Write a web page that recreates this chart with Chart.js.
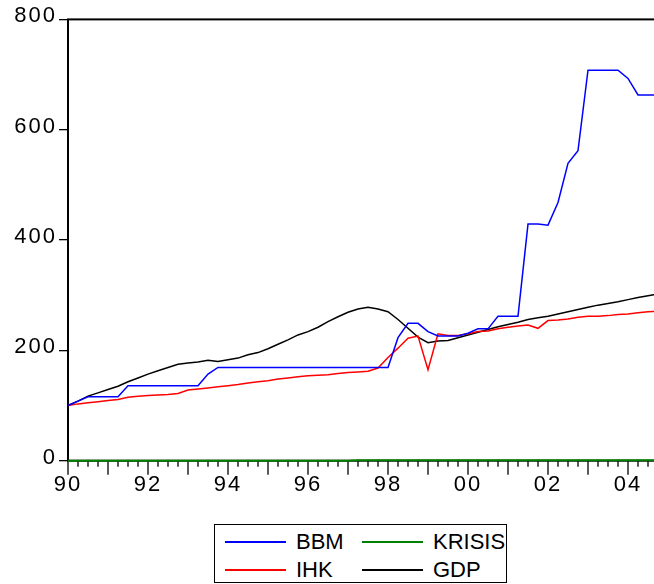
<!DOCTYPE html>
<html><head><meta charset="utf-8">
<script src="https://cdn.jsdelivr.net/npm/chart.js@4/dist/chart.umd.min.js"></script>
<style>
html,body{margin:0;padding:0;background:#fff;overflow:hidden;width:654px;height:584px;}
#wrap{position:absolute;left:0;top:0;width:660px;height:584px;}
#legend{position:absolute;left:214px;top:524px;width:291px;height:57px;border:1px solid #000;background:#fff;font-family:"Liberation Sans",Arial,sans-serif;font-size:22px;color:#000;}
.item{position:absolute;height:26px;line-height:26px;}
.item .sw{position:absolute;left:0;top:12px;width:61px;height:1.5px;}
.item .tx{position:absolute;left:71px;top:0;white-space:nowrap;}
</style></head>
<body>
<div id="wrap"><canvas id="c" width="660" height="584"></canvas></div>
<div id="legend"></div>
<script>
const quarters = ['1990Q1','1990Q2','1990Q3','1990Q4','1991Q1','1991Q2','1991Q3','1991Q4',
'1992Q1','1992Q2','1992Q3','1992Q4','1993Q1','1993Q2','1993Q3','1993Q4',
'1994Q1','1994Q2','1994Q3','1994Q4','1995Q1','1995Q2','1995Q3','1995Q4',
'1996Q1','1996Q2','1996Q3','1996Q4','1997Q1','1997Q2','1997Q3','1997Q4',
'1998Q1','1998Q2','1998Q3','1998Q4','1999Q1','1999Q2','1999Q3','1999Q4',
'2000Q1','2000Q2','2000Q3','2000Q4','2001Q1','2001Q2','2001Q3','2001Q4',
'2002Q1','2002Q2','2002Q3','2002Q4','2003Q1','2003Q2','2003Q3','2003Q4',
'2004Q1','2004Q2','2004Q3','2004Q4'];
const yearLabels = ['90','92','94','96','98','00','02','04'];
const yTicks = [0,200,400,600,800];

const bbm = [100,108,116,116,116,116,136,136,136,136,
 136,136,136,136,157,169,169,169,169,169,
 169,169,169,169,169,169,169,169,169,169,
 169,169,169,223,249,249,234,226,226,226,
 231,239,239,262,262,262,429,429,427,468,
 539,562,708,708,708,708,693,663,663,663];
const ihk = [100,103,105,107,109,111,115,117,118,119,
 120,122,128,130,132,134,136,138,141,143,
 145,148,150,152,154,155,156,158,160,161,
 162,168,187,204,222,226,165,230,227,227,
 230,234,235,239,242,244,246,240,254,255,
 257,260,262,262,263,265,266,268,270,271];
const krisis = [0,0,0,0,0,0,0,0,0,0,
 0,0,0,0,0,0,0,0,0,0,
 0,0,0,0,0,0,0,0,0,1,
 1,1,1,1,1,1,1,1,1,1,
 1,1,1,1,1,1,1,1,1,1,
 1,1,1,1,1,1,1,1,1,1];
const gdp = [100,108,117,123,129,135,143,150,157,163,
 169,175,177,179,182,180,183,186,192,196,
 203,211,219,228,234,242,252,261,269,275,
 278,275,270,256,240,224,214,217,218,223,
 228,233,238,243,247,251,256,259,262,266,
 270,274,278,282,285,288,292,296,299,302];

const FONT = '"Liberation Sans", Arial, sans-serif';

const frameTicks = {
  id:'frameTicks',
  beforeDraw(chart){ chart.ctx.letterSpacing = '2px'; },
  beforeDatasetsDraw(chart){
    const {ctx, chartArea:a, scales:{x}} = chart;
    ctx.save();
    ctx.strokeStyle = '#000';
    ctx.lineWidth = 1.3;
    for (let i = 0; i < quarters.length; i++) {
      const px = x.getPixelForTick(i);
      const len = (i % 4 === 0) ? 14 : 6;
      ctx.beginPath(); ctx.moveTo(px, a.bottom); ctx.lineTo(px, a.bottom + len); ctx.stroke();
    }
    ctx.lineWidth = 2;
    ctx.strokeRect(a.left, a.top, a.right - a.left, a.bottom - a.top);
    ctx.restore();
  }
};

const chart = new Chart(document.getElementById('c'), {
  type:'line',
  data:{
    labels: quarters,
    datasets:[
      {label:'BBM', data:bbm, borderColor:'#0000FF'},
      {label:'IHK', data:ihk, borderColor:'#FF0000'},
      {label:'KRISIS', data:krisis, borderColor:'#008000', clip:false, borderWidth:2},
      {label:'GDP', data:gdp, borderColor:'#000000'}
    ]
  },
  options:{
    responsive:false, animation:false, maintainAspectRatio:false,
    layout:{padding:{left:0, right:2, top:19.4, bottom:83.3}},
    plugins:{legend:{display:false}, tooltip:{enabled:false}},
    elements:{point:{radius:0}, line:{tension:0, borderWidth:1.5, fill:false}},
    scales:{
      x:{type:'category', offset:false,
         grid:{display:false, drawTicks:false}, border:{display:false},
         ticks:{autoSkip:false, maxRotation:0, padding:11, color:'#000', font:{family:FONT, size:22},
                callback:(v,i)=> (i % 8 === 0) ? yearLabels[i/8] : ''},
         afterFit:s=>{s.height = 40; s.paddingLeft = 0; s.paddingRight = 0;}},
      y:{min:0, max:800, afterBuildTicks:s=>{s.ticks = yTicks.map(v=>({value:v}));},
         ticks:{padding:2, color:'#000', font:{family:FONT, size:22}, labelOffset:-3},
         grid:{drawOnChartArea:false, drawTicks:true, tickLength:9, color:'#000', lineWidth:1.3},
         border:{display:false},
         afterFit:s=>{s.width = 68; s.paddingTop = 0; s.paddingBottom = 0;}}
    }
  },
  plugins:[frameTicks]
});

// legend built from datasets (column-major 2x2)
const leg = document.getElementById('legend');
const pos = [[10,4],[10,32],[147,4],[147,32]];
chart.data.datasets.forEach((d,i)=>{
  const it = document.createElement('div'); it.className='item';
  it.style.left = pos[i][0]+'px'; it.style.top = pos[i][1]+'px';
  const sw = document.createElement('div'); sw.className='sw'; sw.style.backgroundColor = d.borderColor;
  const tx = document.createElement('div'); tx.className='tx'; tx.textContent = d.label;
  it.appendChild(sw); it.appendChild(tx); leg.appendChild(it);
});
</script>
</body></html>
